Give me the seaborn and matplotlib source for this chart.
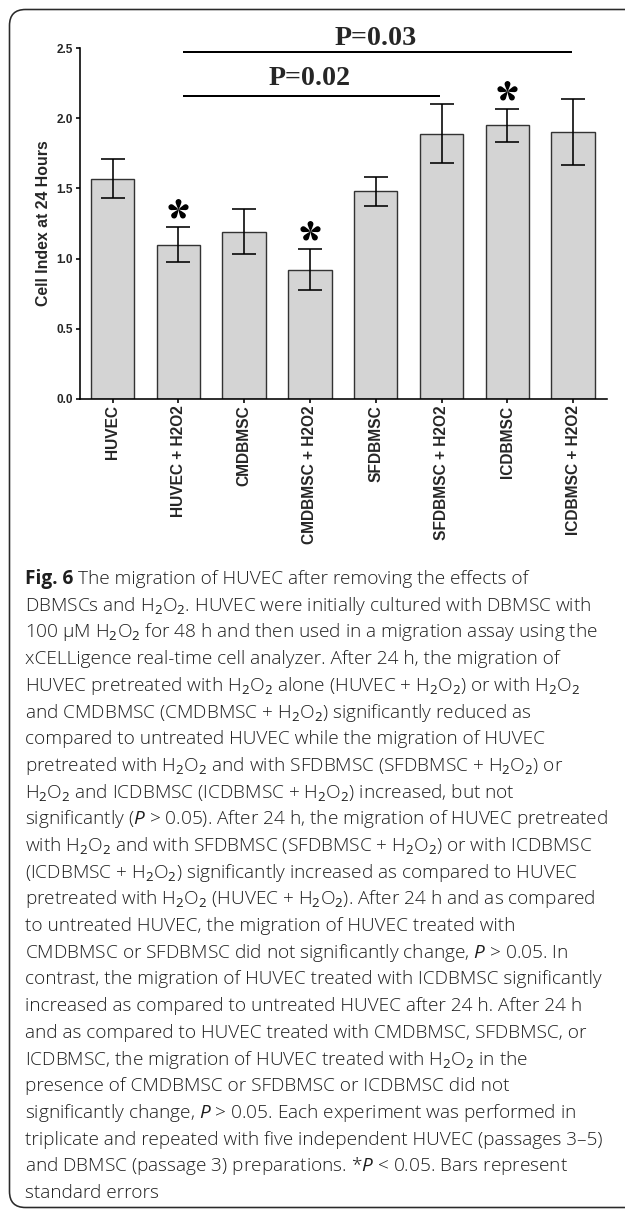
import numpy as np
import pandas as pd
import matplotlib
matplotlib.use("Agg")
import matplotlib.pyplot as plt
import seaborn as sns
from matplotlib.patches import FancyBboxPatch
from matplotlib.path import Path
from matplotlib.transforms import IdentityTransform, offset_copy

# ---- data -------------------------------------------------------------
groups = ["HUVEC", "HUVEC + H2O2", "CMDBMSC", "CMDBMSC + H2O2",
          "SFDBMSC", "SFDBMSC + H2O2", "ICDBMSC", "ICDBMSC + H2O2"]
cell_index = [1.57, 1.10, 1.19, 0.92, 1.48, 1.89, 1.95, 1.90]
std_err = [0.14, 0.125, 0.16, 0.145, 0.105, 0.21, 0.115, 0.235]
significant = ["HUVEC + H2O2", "CMDBMSC + H2O2", "ICDBMSC"]
comparisons = [("HUVEC + H2O2", "SFDBMSC + H2O2", "P=0.02"),
               ("HUVEC + H2O2", "ICDBMSC + H2O2", "P=0.03")]
y_ticks = [0.0, 0.5, 1.0, 1.5, 2.0, 2.5]

caption_head = "Fig. 6"
caption_lines = [
    r"The migration of HUVEC after removing the effects of",
    r"DBMSCs and H$_2$O$_2$. HUVEC were initially cultured with DBMSC with",
    r"100 µM H$_2$O$_2$ for 48 h and then used in a migration assay using the",
    r"xCELLigence real-time cell analyzer. After 24 h, the migration of",
    r"HUVEC pretreated with H$_2$O$_2$ alone (HUVEC + H$_2$O$_2$) or with H$_2$O$_2$",
    r"and CMDBMSC (CMDBMSC + H$_2$O$_2$) significantly reduced as",
    r"compared to untreated HUVEC while the migration of HUVEC",
    r"pretreated with H$_2$O$_2$ and with SFDBMSC (SFDBMSC + H$_2$O$_2$) or",
    r"H$_2$O$_2$ and ICDBMSC (ICDBMSC + H$_2$O$_2$) increased, but not",
    r"significantly ($P$ > 0.05). After 24 h, the migration of HUVEC pretreated",
    r"with H$_2$O$_2$ and with SFDBMSC (SFDBMSC + H$_2$O$_2$) or with ICDBMSC",
    r"(ICDBMSC + H$_2$O$_2$) significantly increased as compared to HUVEC",
    r"pretreated with H$_2$O$_2$ (HUVEC + H$_2$O$_2$). After 24 h and as compared",
    r"to untreated HUVEC, the migration of HUVEC treated with",
    r"CMDBMSC or SFDBMSC did not significantly change, $P$ > 0.05. In",
    r"contrast, the migration of HUVEC treated with ICDBMSC significantly",
    r"increased as compared to untreated HUVEC after 24 h. After 24 h",
    r"and as compared to HUVEC treated with CMDBMSC, SFDBMSC, or",
    r"ICDBMSC, the migration of HUVEC treated with H$_2$O$_2$ in the",
    r"presence of CMDBMSC or SFDBMSC or ICDBMSC did not",
    r"significantly change, $P$ > 0.05. Each experiment was performed in",
    r"triplicate and repeated with five independent HUVEC (passages 3–5)",
    r"and DBMSC (passage 3) preparations. *$P$ < 0.05. Bars represent",
    r"standard errors",
]

# ---- style ------------------------------------------------------------
sns.set_style("ticks")
plt.rcParams["font.family"] = ["Liberation Sans", "DejaVu Sans"]
plt.rcParams["mathtext.fontset"] = "custom"
plt.rcParams["mathtext.rm"] = "Open Sans"
plt.rcParams["mathtext.it"] = "Open Sans:italic"
plt.rcParams["mathtext.bf"] = "Open Sans:bold"

W, H = 625, 1209
PX = 72 / 100  # points per pixel
fig = plt.figure(figsize=(W / 100, H / 100), dpi=100)
fig.patch.set_facecolor("white")

# rounded panel frame
frame = FancyBboxPatch((9.5, 1.5), 700, H - 9.5 - 1.5,
                       boxstyle="round,pad=0,rounding_size=16",
                       transform=IdentityTransform(), fill=False,
                       edgecolor="#2a2a2a", linewidth=1.6 * PX)
fig.add_artist(frame)

ax = fig.add_axes([80 / W, 1 - 398.7 / H, 527 / W, 350.4 / H])

df = pd.DataFrame({"group": groups, "index": cell_index, "se": std_err})
sns.barplot(data=df, x="group", y="index", order=groups, color="#d4d4d4",
            saturation=1, edgecolor="#333333", linewidth=1.4 * PX,
            width=0.66, errorbar=None, ax=ax)

xpos = np.arange(len(groups))
ax.errorbar(xpos, df["index"], yerr=df["se"], fmt="none", ecolor="black",
            elinewidth=1.6 * PX, capsize=8.5, capthick=1.6 * PX, zorder=3)

ax.set_xlim(-0.494, 7.515)
ax.set_ylim(0, 2.5)
ax.set_yticks(y_ticks)
ax.set_yticklabels([f"{v:.1f}" for v in y_ticks])
ax.set_xlabel("")
ax.set_ylabel("Cell Index at 24 Hours", fontsize=11.4, fontweight="bold",
              labelpad=4)
sns.despine(ax=ax)
for s in ("left", "bottom"):
    ax.spines[s].set_linewidth(1.6 * PX)
    ax.spines[s].set_color("black")
ax.tick_params(axis="both", direction="out", length=4 * PX,
               width=1.6 * PX, color="black", pad=2)
ax.tick_params(axis="y", labelsize=8.5)
ax.tick_params(axis="x", labelsize=11.2, labelrotation=90)
for lab in ax.get_xticklabels() + ax.get_yticklabels():
    lab.set_fontweight("bold")

# five-petal asterisk marker for significance vs. untreated HUVEC
def petal_star(n=5, length=1.0):
    verts, codes = [], []
    for k in range(n):
        ang = 2 * np.pi * k / n
        rot = np.array([[np.cos(ang), -np.sin(ang)], [np.sin(ang), np.cos(ang)]])
        local = np.array([(0, 0), (0.12, 0.28), (0.56, 0.90), (0, length),
                          (-0.56, 0.90), (-0.12, 0.28), (0, 0), (0, 0)])
        pts = local @ rot.T
        verts.extend(pts.tolist())
        codes.extend([Path.MOVETO, Path.CURVE4, Path.CURVE4, Path.CURVE4,
                      Path.CURVE4, Path.CURVE4, Path.CURVE4, Path.CLOSEPOLY])
    return Path(verts, codes)

star = petal_star()
for g in significant:
    i = groups.index(g)
    top = cell_index[i] + std_err[i]
    ax.plot(i, top + 0.13, marker=star, markersize=16, color="black",
            markeredgewidth=0, linestyle="none", clip_on=False, zorder=4)

# comparison brackets
bar_heights = [2.157, 2.471]
text_heights = [2.237, 2.523]
for (a, b, label), yl, yt in zip(comparisons, bar_heights, text_heights):
    i, j = groups.index(a), groups.index(b)
    ax.plot([i + 0.07, j - 0.02], [yl, yl], color="black",
            linewidth=2.0 * PX, clip_on=False, solid_capstyle="butt")
    ax.text((i + j) / 2, yt, label, ha="center", va="baseline",
            family="Liberation Serif", fontweight="bold", fontsize=20.2,
            clip_on=False)

# caption
cap_font = dict(family=["Open Sans", "DejaVu Sans"], fontsize=13.7,
                color="#1e1e1e")
y0, dy = 584, 26.7
renderer = fig.canvas.get_renderer()
head = fig.text(25 / W, 1 - y0 / H, caption_head, ha="left", va="baseline",
                fontweight="bold", **cap_font)
head_w = head.get_window_extent(renderer).width
for k, line in enumerate(caption_lines):
    x = 25 + (head_w + 5 if k == 0 else 0)
    fig.text(x / W, 1 - (y0 + k * dy) / H, line, ha="left", va="baseline",
             fontweight="light", **cap_font)

fig.savefig("out.png", dpi=100, facecolor="white")
